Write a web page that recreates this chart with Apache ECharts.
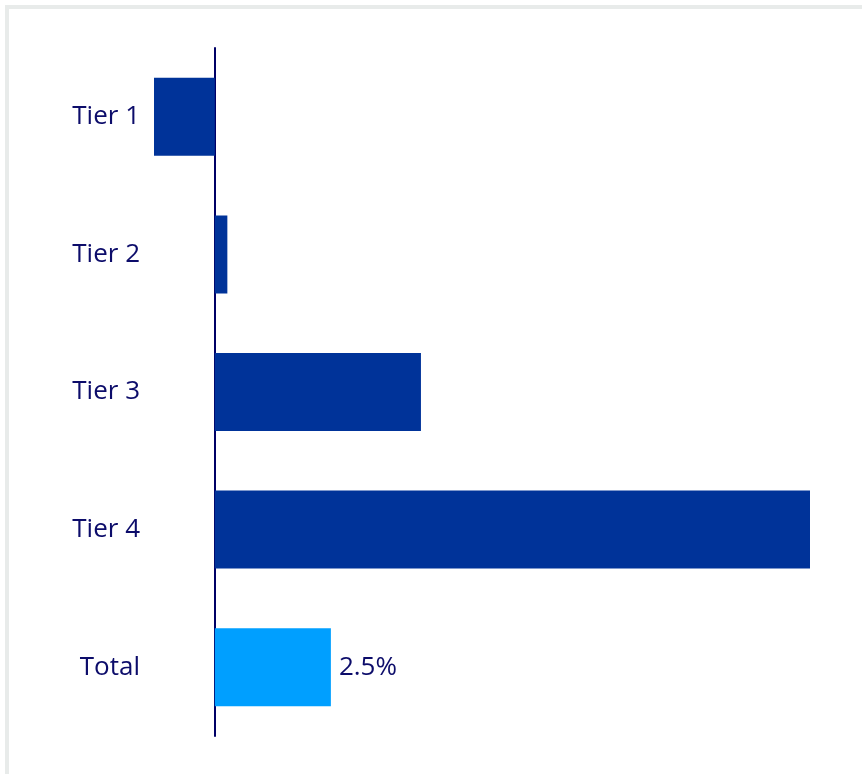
<!DOCTYPE html>
<html>
<head>
<meta charset="utf-8">
<script src="https://cdn.jsdelivr.net/npm/echarts@6/dist/echarts.min.js"></script>
<style>
html,body{margin:0;padding:0;background:#fff;}
#chart{width:862px;height:774px;}
</style>
</head>
<body>
<div id="chart"></div>
<script>
const categories = ['Tier 1', 'Tier 2', 'Tier 3', 'Tier 4', 'Total'];
const values = [-1.31, 0.27, 4.44, 12.82, 2.5];
const totalLabel = '2.5%';

const tierColor = '#003399';
const totalColor = '#009FFF';
const textColor = '#0C0C6A';

const chart = echarts.init(document.getElementById('chart'));
chart.setOption({
  animation: false,
  graphic: [{
    type: 'rect',
    shape: { x: 7, y: 7, width: 2000, height: 2000 },
    style: { fill: 'none', stroke: '#E8EBEA', lineWidth: 4 },
    silent: true
  }],
  grid: { left: 154, top: 48, width: 656, height: 688, containLabel: false },
  xAxis: {
    type: 'value',
    min: -1.31,
    max: 12.82,
    show: false,
    splitLine: { show: false }
  },
  yAxis: {
    type: 'category',
    inverse: true,
    data: categories,
    axisLine: { show: true, onZero: true, lineStyle: { color: '#000066', width: 2 } },
    axisTick: { show: false },
    axisLabel: {
      margin: 14,
      color: textColor,
      fontFamily: 'Open Sans',
      fontSize: 26,
      padding: [4, 0, 0, 0]
    }
  },
  series: [{
    type: 'bar',
    barWidth: 78,
    data: values.map((v, i) => {
      const isTotal = categories[i] === 'Total';
      return {
        value: v,
        itemStyle: { color: isTotal ? totalColor : tierColor },
        label: isTotal ? {
          show: true,
          position: 'right',
          distance: 8,
          formatter: totalLabel,
          color: textColor,
          fontFamily: 'Open Sans',
          fontSize: 26,
          padding: [2, 0, 0, 0]
        } : { show: false }
      };
    })
  }]
});
</script>
</body>
</html>
